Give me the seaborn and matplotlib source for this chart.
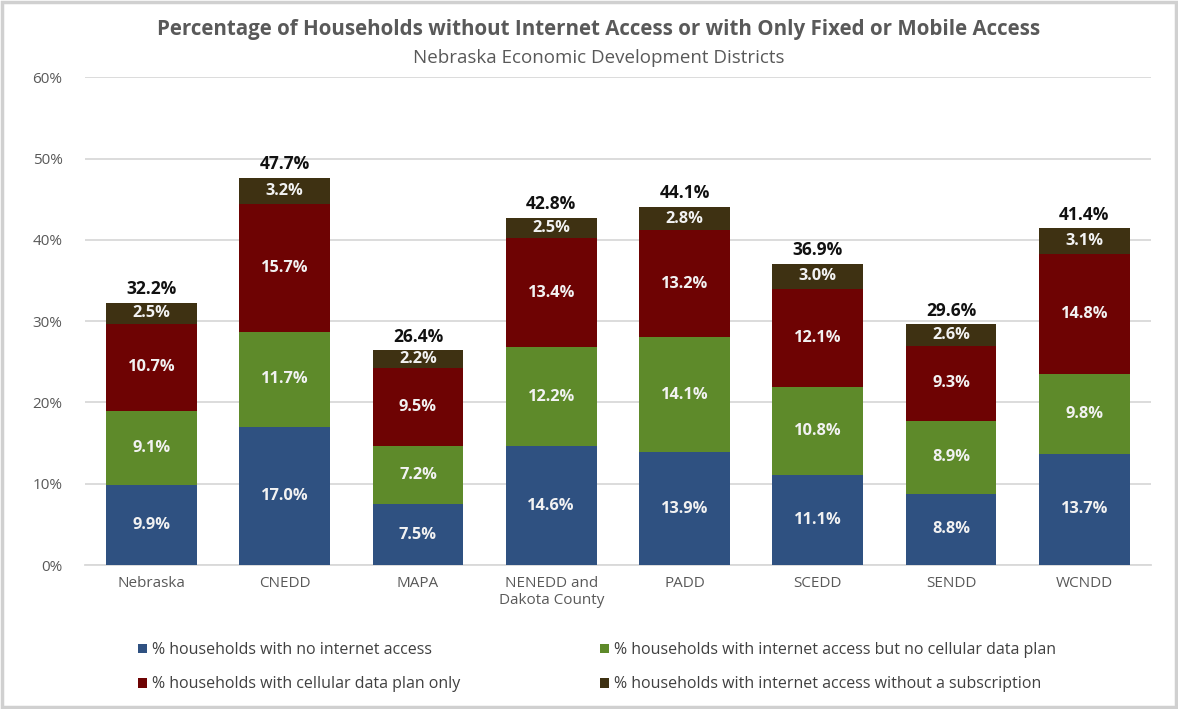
import matplotlib
matplotlib.use("Agg")
import matplotlib.pyplot as plt
from matplotlib.patches import Rectangle, Patch
import seaborn as sns
import pandas as pd
import numpy as np

districts = ["Nebraska", "CNEDD", "MAPA", "NENEDD and\nDakota County", "PADD", "SCEDD", "SENDD", "WCNDD"]
no_internet = [9.9, 17.0, 7.5, 14.6, 13.9, 11.1, 8.8, 13.7]
no_cellular = [9.1, 11.7, 7.2, 12.2, 14.1, 10.8, 8.9, 9.8]
cellular_only = [10.7, 15.7, 9.5, 13.4, 13.2, 12.1, 9.3, 14.8]
no_subscription = [2.5, 3.2, 2.2, 2.5, 2.8, 3.0, 2.6, 3.1]
totals = [32.2, 47.7, 26.4, 42.8, 44.1, 36.9, 29.6, 41.4]

series_names = [
    "% households with no internet access",
    "% households with internet access but no cellular data plan",
    "% households with cellular data plan only",
    "% households with internet access without a subscription",
]
series_values = [no_internet, no_cellular, cellular_only, no_subscription]
colors = ["#2F5181", "#5E8A2A", "#6E0303", "#3E3112"]

sns.set_theme(style="white")
plt.rcParams["font.family"] = ["Open Sans", "DejaVu Sans"]

fig = plt.figure(figsize=(11.78, 7.09), dpi=100)
ax = fig.add_axes([0.072, 0.203, 0.905, 0.688])

# cumulative stacks, drawn from the tallest down so each layer covers the one above
df = pd.DataFrame({"district": districts})
cum = np.zeros(len(districts))
cums = []
for vals in series_values:
    cum = cum + np.array(vals)
    cums.append(cum.copy())

for i in reversed(range(len(series_values))):
    d = df.copy()
    d["value"] = cums[i]
    sns.barplot(data=d, x="district", y="value", color=colors[i], saturation=1,
                width=0.68, ax=ax, edgecolor="none", zorder=3)

# segment labels
for j in range(len(districts)):
    base = 0.0
    for i, vals in enumerate(series_values):
        v = vals[j]
        ax.text(j, base + v / 2, f"{v:.1f}%", ha="center", va="center",
                color="#F2F2F2", fontsize=11.8, fontweight="bold", zorder=5)
        base += v
    ax.text(j, base + 0.6, f"{totals[j]:.1f}%", ha="center", va="bottom",
            color="#111111", fontsize=12.5, fontweight="bold", zorder=5)

ax.set_ylim(0, 60)
ax.set_xlim(-0.5, 7.5)
ax.set_yticks(range(0, 61, 10))
ax.set_yticklabels([f"{t}%" for t in range(0, 61, 10)], color="#595959", fontsize=11)
ax.tick_params(axis="x", colors="#595959", labelsize=11, length=0, pad=8)
ax.tick_params(axis="y", length=0, pad=16)
ax.set_xlabel("")
ax.set_ylabel("")
ax.yaxis.grid(True, color="#D9D9D9", linewidth=1.3, zorder=0)
ax.set_axisbelow(True)
for s in ["top", "right", "left"]:
    ax.spines[s].set_visible(False)
ax.spines["bottom"].set_color("#D9D9D9")
ax.spines["bottom"].set_linewidth(1.3)

fig.text(0.508, 0.958, "Percentage of Households without Internet Access or with Only Fixed or Mobile Access",
         ha="center", va="center", fontsize=14.8, fontweight="bold", color="#595959")
fig.text(0.508, 0.918, "Nebraska Economic Development Districts",
         ha="center", va="center", fontsize=13.5, color="#595959")

# legend laid out row-wise: blue, green on the first row; red, brown on the second
order = [0, 2, 1, 3]
handles = [Patch(facecolor=colors[k], edgecolor="none") for k in order]
labels = [series_names[k] for k in order]
fig.legend(handles, labels, loc="center left", ncol=2, bbox_to_anchor=(0.105, 0.059),
           frameon=False, fontsize=11.5, labelcolor="#404040", handlelength=0.55,
           handleheight=0.55, handletextpad=0.3, columnspacing=8.8, labelspacing=1.15)

fig.patches.append(Rectangle((0.002, 0.003), 0.996, 0.994, transform=fig.transFigure,
                             fill=False, edgecolor="#D0D0D0", linewidth=2.5))

fig.savefig("out.png", dpi=100, facecolor="white")
